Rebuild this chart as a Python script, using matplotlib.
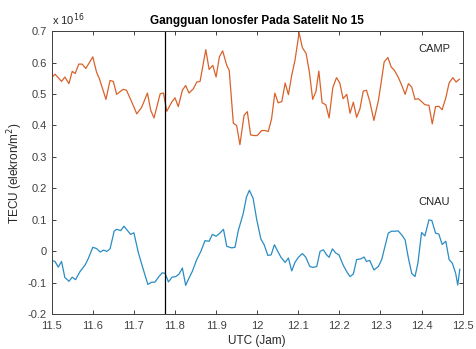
import matplotlib
matplotlib.use("Agg")
from matplotlib import pyplot as plt

plt.rcParams['font.family'] = ['Liberation Sans', 'DejaVu Sans']

# CAMP station (x 10^16)
t_camp = [11.500, 11.508, 11.524, 11.532, 11.542, 11.550, 11.557, 11.566, 11.574, 11.583,
          11.600, 11.609, 11.616, 11.632, 11.642, 11.650, 11.658, 11.674, 11.682, 11.695,
          11.707, 11.719, 11.733, 11.741, 11.749, 11.764, 11.772, 11.780, 11.792, 11.800,
          11.808, 11.818, 11.826, 11.834, 11.845, 11.853, 11.861, 11.875, 11.883, 11.892,
          11.900, 11.908, 11.916, 11.926, 11.932, 11.942, 11.950, 11.958, 11.968, 11.976,
          11.984, 11.992, 12.000, 12.011, 12.019, 12.027, 12.035, 12.043, 12.051, 12.060,
          12.068, 12.076, 12.084, 12.092, 12.102, 12.110, 12.119, 12.127, 12.135, 12.143,
          12.150, 12.158, 12.167, 12.175, 12.184, 12.193, 12.201, 12.209, 12.218, 12.226,
          12.234, 12.242, 12.250, 12.258, 12.266, 12.274, 12.284, 12.295, 12.300, 12.309,
          12.318, 12.326, 12.334, 12.343, 12.352, 12.360, 12.368, 12.376, 12.384, 12.392,
          12.400, 12.408, 12.418, 12.426, 12.434, 12.442, 12.450, 12.459, 12.467, 12.476,
          12.484, 12.492]
camp = [0.552, 0.563, 0.540, 0.554, 0.533, 0.572, 0.565, 0.595, 0.595, 0.581,
        0.618, 0.570, 0.549, 0.483, 0.543, 0.540, 0.499, 0.515, 0.512, 0.474,
        0.437, 0.458, 0.503, 0.448, 0.424, 0.501, 0.503, 0.445, 0.474, 0.488,
        0.460, 0.512, 0.527, 0.503, 0.517, 0.538, 0.540, 0.641, 0.578, 0.591,
        0.554, 0.618, 0.637, 0.591, 0.575, 0.407, 0.400, 0.339, 0.432, 0.444,
        0.370, 0.368, 0.368, 0.384, 0.384, 0.381, 0.421, 0.503, 0.472, 0.476,
        0.535, 0.498, 0.559, 0.607, 0.695, 0.647, 0.629, 0.570, 0.483, 0.508,
        0.573, 0.472, 0.466, 0.424, 0.520, 0.552, 0.535, 0.485, 0.499, 0.439,
        0.474, 0.426, 0.453, 0.509, 0.512, 0.476, 0.416, 0.480, 0.522, 0.602,
        0.616, 0.586, 0.575, 0.554, 0.527, 0.499, 0.533, 0.522, 0.483, 0.485,
        0.476, 0.466, 0.464, 0.405, 0.460, 0.461, 0.450, 0.488, 0.535, 0.552,
        0.538, 0.547]

# CNAU station (x 10^16)
t_cnau = [11.500, 11.508, 11.516, 11.524, 11.532, 11.542, 11.550, 11.558, 11.569, 11.581,
          11.589, 11.600, 11.609, 11.618, 11.626, 11.634, 11.642, 11.652, 11.658, 11.668,
          11.676, 11.682, 11.692, 11.700, 11.711, 11.723, 11.734, 11.743, 11.751, 11.761,
          11.769, 11.776, 11.784, 11.793, 11.802, 11.810, 11.818, 11.826, 11.834, 11.842,
          11.853, 11.863, 11.873, 11.883, 11.891, 11.900, 11.910, 11.918, 11.926, 11.938,
          11.946, 11.954, 11.966, 11.974, 11.981, 11.990, 11.999, 12.009, 12.017, 12.026,
          12.034, 12.042, 12.050, 12.058, 12.068, 12.076, 12.084, 12.092, 12.100, 12.110,
          12.118, 12.128, 12.136, 12.145, 12.153, 12.161, 12.169, 12.175, 12.183, 12.191,
          12.199, 12.209, 12.219, 12.226, 12.234, 12.242, 12.252, 12.260, 12.266, 12.274,
          12.284, 12.295, 12.303, 12.311, 12.319, 12.327, 12.335, 12.343, 12.352, 12.360,
          12.368, 12.376, 12.384, 12.391, 12.400, 12.408, 12.418, 12.425, 12.434, 12.442,
          12.450, 12.459, 12.467, 12.475, 12.483, 12.488, 12.493]
cnau = [-0.029, -0.032, -0.050, -0.032, -0.083, -0.095, -0.082, -0.090, -0.064, -0.044,
        -0.023, 0.013, 0.009, -0.002, 0.004, 0.000, 0.008, 0.064, 0.070, 0.066,
        0.080, 0.070, 0.054, 0.059, -0.005, -0.058, -0.105, -0.098, -0.098, -0.080,
        -0.068, -0.070, -0.097, -0.082, -0.080, -0.072, -0.053, -0.108, -0.085, -0.064,
        -0.026, 0.000, 0.034, 0.032, 0.054, 0.048, 0.059, 0.070, 0.016, 0.011,
        0.013, 0.066, 0.120, 0.173, 0.194, 0.169, 0.100, 0.039, 0.021, -0.013,
        -0.011, 0.021, 0.000, -0.019, -0.035, -0.021, -0.062, -0.035, -0.019, -0.007,
        -0.018, -0.048, -0.051, -0.048, 0.000, 0.005, -0.011, -0.019, 0.008, -0.005,
        -0.011, -0.043, -0.067, -0.080, -0.072, -0.026, -0.024, -0.018, -0.032, -0.029,
        -0.059, -0.048, -0.026, 0.016, 0.058, 0.064, 0.064, 0.065, 0.052, 0.036,
        -0.022, -0.070, -0.080, -0.038, 0.060, 0.049, 0.100, 0.098, 0.058, 0.055,
        0.022, 0.032, -0.026, -0.038, -0.070, -0.107, -0.057]

t_event = 11.775

fig = plt.figure(figsize=(4.76, 3.49), dpi=100)
ax = fig.add_axes([0.1086, 0.0994, 0.8634, 0.8116])

ax.plot(t_camp, camp, color='#d9622b', linewidth=0.9)
ax.plot(t_cnau, cnau, color='#2a8cc4', linewidth=0.9)
ax.axvline(t_event, color='black', linewidth=0.9)

ax.set_xlim(11.5, 12.5)
ax.set_ylim(-0.2, 0.7)
ax.set_xticks([11.5, 11.6, 11.7, 11.8, 11.9, 12.0, 12.1, 12.2, 12.3, 12.4, 12.5])
ax.set_xticklabels(['11.5', '11.6', '11.7', '11.8', '11.9', '12', '12.1', '12.2', '12.3', '12.4', '12.5'])
ax.set_yticks([-0.2, -0.1, 0, 0.1, 0.2, 0.3, 0.4, 0.5, 0.6, 0.7])
ax.set_yticklabels(['-0.2', '-0.1', '0', '0.1', '0.2', '0.3', '0.4', '0.5', '0.6', '0.7'])

ax.tick_params(direction='in', top=True, right=True, length=3, width=0.7,
               labelsize=8, colors='#404040')
ax.tick_params(axis='x', pad=5)
ax.tick_params(axis='y', pad=3.5)
for s in ax.spines.values():
    s.set_color('#404040')
    s.set_linewidth(0.7)

ax.set_xlabel('UTC (Jam)', fontsize=8.5, color='#262626', labelpad=3)
ax.set_ylabel('TECU (elekron/m$^2$)', fontsize=8.5, color='#262626', labelpad=2)
ax.set_title('Gangguan Ionosfer Pada Satelit No 15', fontsize=8.5, fontweight='bold', pad=5)
ax.text(0.0, 1.012, 'x 10$^{16}$', transform=ax.transAxes, fontsize=8, color='#262626',
        ha='left', va='bottom')

ax.text(12.43, 0.643, 'CAMP', fontsize=8, ha='center', va='center', color='#262626')
ax.text(12.43, 0.156, 'CNAU', fontsize=8, ha='center', va='center', color='#262626')

fig.savefig('out.png', dpi=100)
